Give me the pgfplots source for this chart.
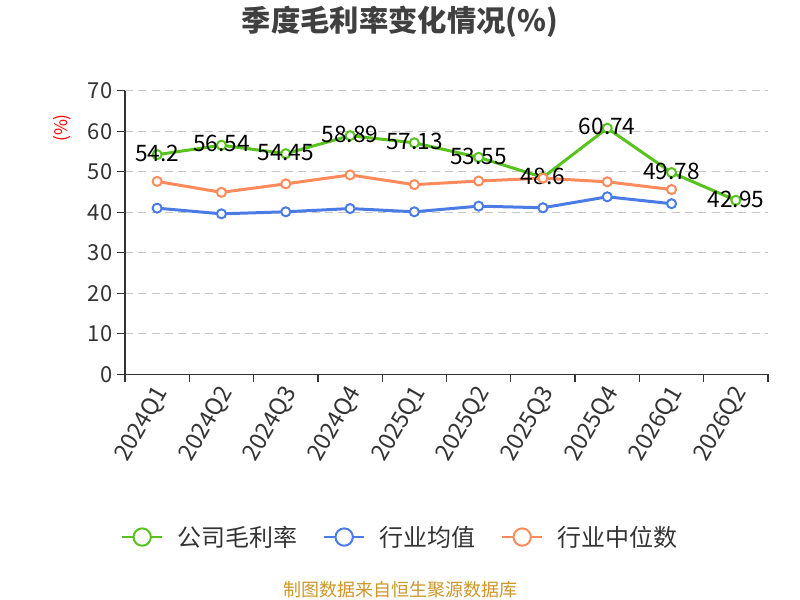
\documentclass[border=0pt]{standalone}
\usepackage{pgfplots}
\pgfplotsset{compat=1.18}
\usepackage{fontspec}
\setmainfont{Noto Sans CJK SC}
\definecolor{cgreen}{RGB}{88,195,30}
\definecolor{cblue}{RGB}{75,123,229}
\definecolor{corange}{RGB}{255,138,91}
\definecolor{ctext}{RGB}{51,51,51}
\definecolor{ctitle}{RGB}{64,64,64}
\definecolor{cfoot}{RGB}{204,150,40}
\pgfplotsset{
  myline/.style={color=#1, line width=2.25pt, mark=*, mark size=3.4pt,
    mark options={fill=white, line width=1.5pt, solid}},
}
\begin{document}
\begin{tikzpicture}[x=0.75pt,y=0.75pt]
\path[use as bounding box] (0,0) rectangle (800,600);
\node[font=\fontsize{22}{24}\selectfont\bfseries, text=ctitle] at (400,578) {季度毛利率变化情况(\%)};
\node[rotate=90, font=\fontsize{13}{15}\selectfont, text=red] at (62,472) {(\%)};
\node[font=\fontsize{13.5}{15}\selectfont, text=cfoot] at (400,10) {制图数据来自恒生聚源数据库};
\begin{axis}[
  at={(93.75pt,169.3pt)}, anchor=south west,
  scale only axis, width=482.25pt, height=212.7pt,
  xmin=-0.5, xmax=9.5, ymin=0, ymax=70,
  /pgf/number format/assume math mode=true,
  ytick={0,10,...,70},
  xtick={0,...,9},
  xticklabels={2024Q1,2024Q2,2024Q3,2024Q4,2025Q1,2025Q2,2025Q3,2025Q4,2026Q1,2026Q2},
  minor xtick={-0.5,0.5,...,9.5},
  axis lines=left, axis line style={-, draw=ctext, line width=1pt},
  tick align=outside, major tick length=6pt, minor tick length=6pt,
  major x tick style={draw=none},
  minor x tick style={draw=ctext, line width=1pt},
  y tick style={draw=ctext, line width=1pt},
  ymajorgrids, major grid style={draw=black!22, line width=0.8pt, dash pattern=on 6pt off 4pt},
  y tick label style={font=\fontsize{16.5}{18}\selectfont, text=ctext},
  x tick label style={font=\fontsize{17.5}{19}\selectfont, text=ctext, rotate=60, anchor=east, yshift=-6pt, xshift=1.5pt},
  clip=false,
  legend style={at={(0.429,-0.574)}, anchor=center, legend columns=3, draw=none, fill=none,
    font=\fontsize{18}{20}\selectfont, text=ctext,
    /tikz/every even column/.append style={column sep=17pt},
    /tikz/every odd column/.append style={column sep=9pt}},
  legend image code/.code={\draw[mark repeat=2,mark phase=2,#1,line width=1.5pt,mark size=6.5pt] plot coordinates {(0pt,0pt)(15pt,0pt)(30pt,0pt)};},
]
\addplot[myline=cgreen, nodes near coords, point meta=explicit symbolic,
  every node near coord/.append style={anchor=center, yshift=1pt, text=black, font=\fontsize{17}{19}\selectfont}]
  coordinates {(0,54.2)[54.2] (1,56.54)[56.54] (2,54.45)[54.45] (3,58.89)[58.89] (4,57.13)[57.13]
    (5,53.55)[53.55] (6,48.6)[48.6] (7,60.74)[60.74] (8,49.78)[49.78] (9,42.95)[42.95]};
\addlegendentry{公司毛利率}
\addplot[myline=cblue] coordinates {(0,41.0) (1,39.6) (2,40.1) (3,40.9) (4,40.1) (5,41.5) (6,41.1) (7,43.8) (8,42.1)};
\addlegendentry{行业均值}
\addplot[myline=corange] coordinates {(0,47.6) (1,44.9) (2,47.0) (3,49.2) (4,46.8) (5,47.7) (6,48.4) (7,47.5) (8,45.6)};
\addlegendentry{行业中位数}
\end{axis}
\end{tikzpicture}
\end{document}
